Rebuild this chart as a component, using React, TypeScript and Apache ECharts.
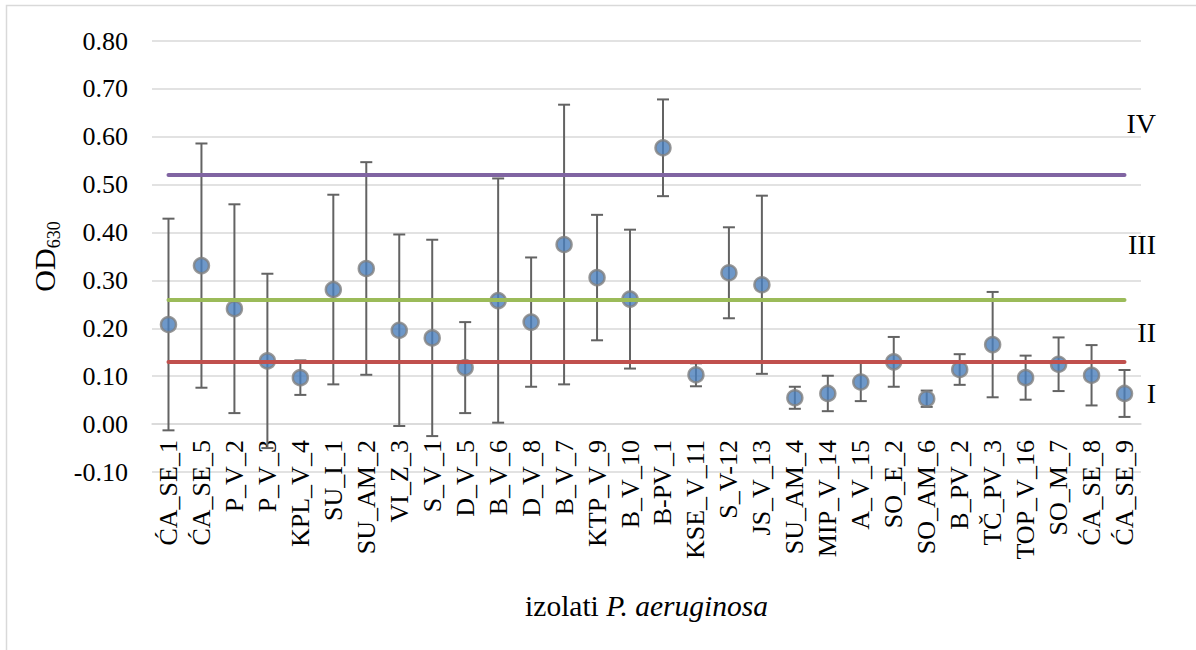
import React, { useEffect, useRef } from "react";
import * as echarts from "echarts";

const categories = [
  "ĆA_SE_1", "ĆA_SE_5", "P_V_2", "P_V_3", "KPL_V_4", "SU_I_1", "SU_AM_2", "VI_Z_3",
  "S_V_1", "D_V_5", "B_V_6", "D_V_8", "B_V_7", "KTP_V_9", "B_V_10", "B-PV_1",
  "KSE_V_11", "S_V-12", "JS_V_13", "SU_AM_4", "MIP_V_14", "A_V_15", "SO_E_2", "SO_AM_6",
  "B_PV_2", "TČ_PV_3", "TOP_V_16", "SO_M_7", "ĆA_SE_8", "ĆA_SE_9",
];
const means = [
  0.208, 0.331, 0.241, 0.132, 0.097, 0.281, 0.325, 0.196, 0.180, 0.118, 0.258, 0.213,
  0.375, 0.306, 0.261, 0.577, 0.103, 0.316, 0.291, 0.055, 0.064, 0.088, 0.130, 0.053,
  0.114, 0.166, 0.097, 0.125, 0.102, 0.064,
];
const sds = [
  0.221, 0.255, 0.218, 0.182, 0.036, 0.198, 0.222, 0.200, 0.205, 0.095, 0.255, 0.135,
  0.292, 0.131, 0.145, 0.101, 0.024, 0.095, 0.186, 0.023, 0.037, 0.040, 0.052, 0.017,
  0.032, 0.110, 0.046, 0.056, 0.063, 0.049,
];
const thresholds = [
  { value: 0.13, color: "#c0504d" },
  { value: 0.26, color: "#9bbb59" },
  { value: 0.52, color: "#8064a2" },
];
const zoneLabels = ["I", "II", "III", "IV"];
const yTicks = { min: -0.1, max: 0.8, interval: 0.1 };

const FONT = "'Liberation Serif', 'Times New Roman', serif";

export default function App() {
  const ref = useRef<HTMLDivElement>(null);
  useEffect(() => {
    if (!ref.current) return;
    const chart = echarts.init(ref.current, null, { renderer: "svg" });
    const errData = categories.map((_, i) => [i, means[i] - sds[i], means[i] + sds[i]]);
    const gridTop = 41;
    const gridBottom = 178;
    const plotH = 650 - gridTop - gridBottom;
    // place the category axis where the value axis crosses zero
    const zeroOffset = -plotH * (0 - yTicks.min) / (yTicks.max - yTicks.min);
    const option: any = {
      animation: false,
      backgroundColor: "#ffffff",
      grid: { left: 152, right: 55, top: gridTop, bottom: gridBottom, outerBoundsMode: "none", containLabel: false },
      xAxis: {
        type: "category",
        data: categories,
        boundaryGap: true,
        offset: zeroOffset,
        axisLine: { show: true, onZero: false, lineStyle: { color: "#d9d9d9", width: 1.5 } },
        axisTick: { show: false },
        axisLabel: {
          rotate: 90,
          interval: 0,
          margin: 16,
          fontFamily: FONT,
          fontSize: 26,
          color: "#000000",
        },
        name: "{n|izolati }{i|P. aeruginosa}",
        nameLocation: "middle",
        nameGap: 167,
        nameTextStyle: {
          rich: {
            n: { fontFamily: FONT, fontSize: 29.5, color: "#000" },
            i: { fontFamily: FONT, fontSize: 29.5, fontStyle: "italic", color: "#000" },
          },
        },
      },
      yAxis: {
        type: "value",
        min: yTicks.min,
        max: yTicks.max,
        interval: yTicks.interval,
        axisLine: { show: false },
        axisTick: { show: false },
        splitLine: { lineStyle: { color: "#d9d9d9", width: 1.5 } },
        axisLabel: {
          margin: 24,
          fontFamily: FONT,
          fontSize: 26,
          color: "#000000",
          formatter: (v: number) => v.toFixed(2),
        },
        name: "{a|OD}{b|630}",
        nameLocation: "middle",
        nameRotate: 90,
        nameGap: 72,
        nameTextStyle: {
          rich: {
            a: { fontFamily: FONT, fontSize: 30, color: "#000", lineHeight: 30, verticalAlign: "top" },
            b: { fontFamily: FONT, fontSize: 18, color: "#000", lineHeight: 48, verticalAlign: "middle" },
          },
        },
      },
      series: [
        {
          type: "line",
          data: [],
          z: 1,
          markLine: {
            silent: true,
            symbol: "none",
            label: { show: false },
            data: thresholds.map((t) => [
              { xAxis: categories[0], yAxis: t.value, lineStyle: { color: t.color, width: 4, type: "solid", cap: "round" } },
              { xAxis: categories[categories.length - 1], yAxis: t.value },
            ]),
          },
        },
        {
          type: "custom",
          z: 2,
          data: errData,
          renderItem: (params: any, api: any) => {
            const x = api.value(0);
            const lo = api.coord([x, api.value(1)]);
            const hi = api.coord([x, api.value(2)]);
            const w = 6;
            const style = { stroke: "#636363", lineWidth: 2 };
            return {
              type: "group",
              children: [
                { type: "line", shape: { x1: lo[0], y1: lo[1], x2: hi[0], y2: hi[1] }, style },
                { type: "line", shape: { x1: lo[0] - w, y1: lo[1], x2: lo[0] + w, y2: lo[1] }, style },
                { type: "line", shape: { x1: hi[0] - w, y1: hi[1], x2: hi[0] + w, y2: hi[1] }, style },
              ],
            };
          },
        },
        {
          type: "scatter",
          z: 3,
          data: means,
          symbol: "circle",
          symbolSize: 15,
          itemStyle: { color: "#4a7ebb", borderColor: "#7f7f7f", borderWidth: 2.5 },
        },
      ],
      graphic: [
        {
          type: "rect",
          shape: { x: 6.5, y: 5.5, width: 1300, height: 1000 },
          style: { fill: "none", stroke: "#d9d9d9", lineWidth: 1.5 },
          silent: true,
        },
        ...[
          { t: zoneLabels[3], y: 123 },
          { t: zoneLabels[2], y: 244 },
          { t: zoneLabels[1], y: 332 },
          { t: zoneLabels[0], y: 393 },
        ].map((z) => ({
          type: "text",
          x: 1156,
          y: z.y,
          style: {
            text: z.t,
            fontFamily: FONT,
            fontSize: 28,
            fill: "#000",
            textAlign: "right",
            textVerticalAlign: "middle",
          },
        })),
      ],
    };
    chart.setOption(option);
    return () => chart.dispose();
  }, []);
  return (
    <div
      ref={ref}
      style={{ position: "absolute", left: 0, top: 0, width: 1196, height: 650 }}
    />
  );
}
